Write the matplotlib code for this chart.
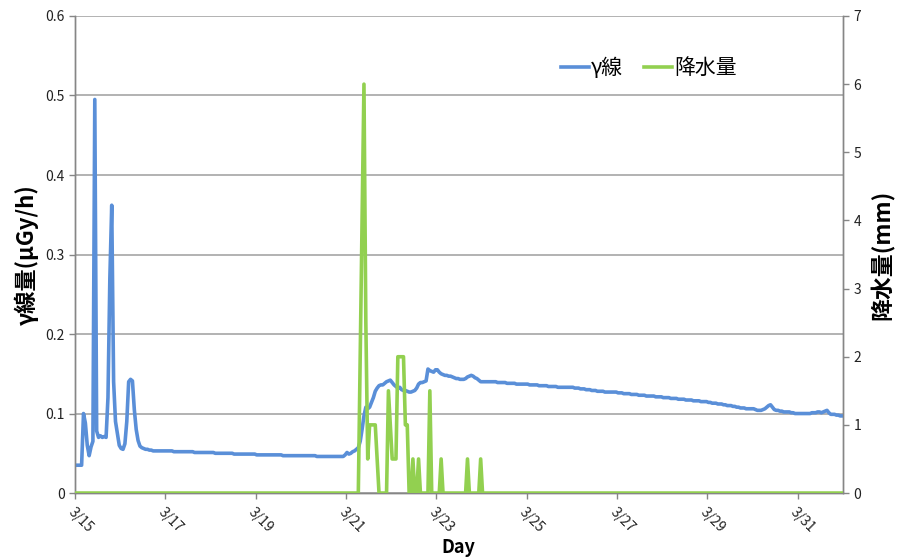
import matplotlib.pyplot as plt
import numpy as np

plt.rcParams['font.family'] = ['Noto Sans CJK JP', 'DejaVu Sans']

# hourly gamma dose rate (uGy/h), one row per day from 3/15 to 3/31
gamma_day = [
    [0.035, 0.035, 0.035, 0.035, 0.100, 0.088, 0.060, 0.047, 0.058, 0.065, 0.495, 0.078,
     0.070, 0.072, 0.070, 0.071, 0.070, 0.120, 0.270, 0.362, 0.140, 0.090, 0.075, 0.060],
    [0.056, 0.055, 0.062, 0.090, 0.140, 0.143, 0.141, 0.105, 0.080, 0.066, 0.059, 0.057,
     0.056, 0.055, 0.055, 0.054, 0.054, 0.053, 0.053, 0.053, 0.053, 0.053, 0.053, 0.053],
    [0.053, 0.053, 0.053, 0.053, 0.052, 0.052, 0.052, 0.052, 0.052, 0.052, 0.052, 0.052,
     0.052, 0.052, 0.052, 0.051, 0.051, 0.051, 0.051, 0.051, 0.051, 0.051, 0.051, 0.051],
    [0.051, 0.051, 0.050, 0.050, 0.050, 0.050, 0.050, 0.050, 0.050, 0.050, 0.050, 0.050,
     0.049, 0.049, 0.049, 0.049, 0.049, 0.049, 0.049, 0.049, 0.049, 0.049, 0.049, 0.049],
    [0.048, 0.048, 0.048, 0.048, 0.048, 0.048, 0.048, 0.048, 0.048, 0.048, 0.048, 0.048,
     0.048, 0.048, 0.047, 0.047, 0.047, 0.047, 0.047, 0.047, 0.047, 0.047, 0.047, 0.047],
    [0.047, 0.047, 0.047, 0.047, 0.047, 0.047, 0.047, 0.047, 0.046, 0.046, 0.046, 0.046,
     0.046, 0.046, 0.046, 0.046, 0.046, 0.046, 0.046, 0.046, 0.046, 0.046, 0.046, 0.048],
    [0.051, 0.049, 0.050, 0.052, 0.053, 0.055, 0.057, 0.065, 0.080, 0.097, 0.108, 0.106,
     0.108, 0.114, 0.120, 0.128, 0.132, 0.135, 0.136, 0.136, 0.138, 0.140, 0.141, 0.142],
    [0.139, 0.136, 0.134, 0.132, 0.133, 0.130, 0.129, 0.129, 0.128, 0.127, 0.127, 0.128,
     0.129, 0.132, 0.137, 0.139, 0.139, 0.140, 0.141, 0.156, 0.154, 0.153, 0.152, 0.155],
    [0.155, 0.152, 0.150, 0.149, 0.148, 0.148, 0.147, 0.147, 0.146, 0.145, 0.144, 0.144,
     0.143, 0.143, 0.143, 0.144, 0.146, 0.147, 0.148, 0.147, 0.145, 0.144, 0.142, 0.140],
    [0.140, 0.140, 0.140, 0.140, 0.140, 0.140, 0.140, 0.140, 0.139, 0.139, 0.139, 0.139,
     0.139, 0.138, 0.138, 0.138, 0.138, 0.138, 0.137, 0.137, 0.137, 0.137, 0.137, 0.137],
    [0.137, 0.136, 0.136, 0.136, 0.136, 0.136, 0.135, 0.135, 0.135, 0.135, 0.135, 0.134,
     0.134, 0.134, 0.134, 0.134, 0.133, 0.133, 0.133, 0.133, 0.133, 0.133, 0.133, 0.133],
    [0.133, 0.132, 0.132, 0.132, 0.131, 0.131, 0.131, 0.130, 0.130, 0.130, 0.129, 0.129,
     0.129, 0.128, 0.128, 0.128, 0.128, 0.127, 0.127, 0.127, 0.127, 0.127, 0.127, 0.127],
    [0.126, 0.126, 0.126, 0.125, 0.125, 0.125, 0.125, 0.124, 0.124, 0.124, 0.124, 0.123,
     0.123, 0.123, 0.123, 0.122, 0.122, 0.122, 0.122, 0.122, 0.121, 0.121, 0.121, 0.121],
    [0.120, 0.120, 0.120, 0.120, 0.119, 0.119, 0.119, 0.119, 0.118, 0.118, 0.118, 0.118,
     0.117, 0.117, 0.117, 0.117, 0.116, 0.116, 0.116, 0.116, 0.115, 0.115, 0.115, 0.115],
    [0.114, 0.114, 0.113, 0.113, 0.113, 0.112, 0.112, 0.112, 0.111, 0.111, 0.110, 0.110,
     0.110, 0.109, 0.109, 0.108, 0.108, 0.107, 0.107, 0.107, 0.106, 0.106, 0.106, 0.106],
    [0.106, 0.105, 0.104, 0.104, 0.104, 0.105, 0.106, 0.108, 0.110, 0.111, 0.108, 0.105,
     0.104, 0.104, 0.103, 0.103, 0.102, 0.102, 0.102, 0.102, 0.101, 0.101, 0.100, 0.100],
    [0.100, 0.100, 0.100, 0.100, 0.100, 0.100, 0.100, 0.101, 0.101, 0.101, 0.102, 0.102,
     0.101, 0.102, 0.103, 0.104, 0.101, 0.099, 0.099, 0.099, 0.098, 0.098, 0.097, 0.097],
]

# hourly rainfall (mm): hours with rain, counted from 3/15 0:00
rain_hours = [151, 152, 153, 154, 155, 156, 157, 158, 159, 160,
              166, 167, 168, 169, 170, 171, 172, 173, 174, 175, 176,
              179, 182, 188, 194, 208, 215]
rain_mm = [2.0, 4.0, 6.0, 2.5, 0.5, 1.0, 1.0, 1.0, 1.0, 0.5,
           1.5, 1.0, 0.5, 0.5, 0.5, 2.0, 2.0, 2.0, 2.0, 1.0, 1.0,
           0.5, 0.5, 1.5, 0.5, 0.5, 0.5]

day_labels = ['3/15', '3/17', '3/19', '3/21', '3/23', '3/25', '3/27', '3/29', '3/31']

gamma = np.concatenate(gamma_day)
n_hours = len(gamma)
rain = np.zeros(n_hours)
rain[rain_hours] = rain_mm
t = (np.arange(n_hours) + 0.5) / 24.0

blue = '#5A8FD8'
green = '#92D050'
grid_c = '#A6A6A6'
axis_c = '#868686'

fig = plt.figure(figsize=(9.05, 5.59), dpi=100)
ax = fig.add_axes([0.0829, 0.118, 0.8486, 0.8534])
ax2 = ax.twinx()

l1, = ax.plot(t, gamma, color=blue, lw=2.6, solid_joinstyle='round', label='γ線', zorder=3)
l2, = ax2.plot(t, rain, color=green, lw=2.6, solid_joinstyle='round', label='降水量', zorder=3)

ax.set_xlim(0, n_hours / 24.0)
ax.set_ylim(0, 0.6)
ax2.set_ylim(0, 7)

ax.set_yticks(np.arange(0, 0.61, 0.1))
ax.set_yticklabels(['0', '0.1', '0.2', '0.3', '0.4', '0.5', '0.6'])
ax2.set_yticks(range(0, 8))
ax.set_xticks(np.arange(0, 17, 2))
ax.set_xticklabels(day_labels, rotation=-45, ha='left', va='top', rotation_mode='anchor')

ax.yaxis.grid(True, color=grid_c, lw=1.2)
ax.set_axisbelow(True)

for a in (ax, ax2):
    a.spines['top'].set_visible(False)
    for s in ('left', 'right', 'bottom'):
        a.spines[s].set_color(axis_c)
        a.spines[s].set_linewidth(1.0)
    a.tick_params(colors=axis_c, labelcolor='#222222', labelsize=10, length=4, width=1.0)
ax.tick_params(axis='x', pad=5)

ax.set_xlabel('Day', fontsize=13, fontweight='bold')
ax.xaxis.set_label_coords(0.499, -0.095)
ax.set_ylabel('γ線量(μGy/h)', fontsize=16, fontweight='bold')
ax.yaxis.set_label_coords(-0.047, 0.5)
ax2.set_ylabel('降水量(mm)', fontsize=16.5, fontweight='bold', rotation=90)
ax2.yaxis.set_label_coords(1.036, 0.5)

fig.legend(handles=[l1, l2], loc='center', bbox_to_anchor=(0.717, 0.878), ncol=2,
           frameon=False, fontsize=15, handlelength=1.35, handletextpad=0.1,
           columnspacing=1.0)

fig.savefig('out.png', dpi=100)
